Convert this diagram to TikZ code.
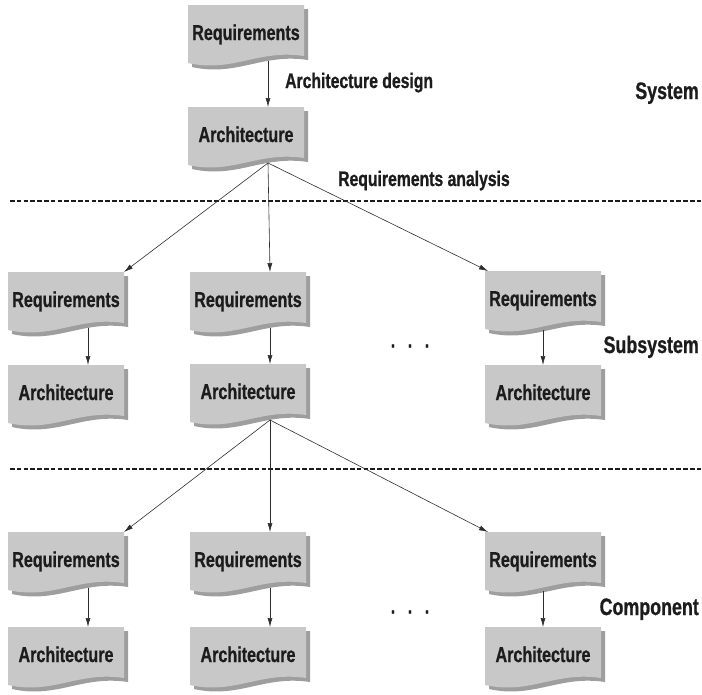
\documentclass[tikz,border=0pt]{standalone}
\usepackage{fontspec}
\newfontfamily\lblfont{Liberation Sans}[FakeStretch=0.75, BoldFeatures={FakeBold=0.8}]
\usetikzlibrary{arrows.meta}

\definecolor{docfill}{RGB}{200,200,200}
\definecolor{docshadow}{RGB}{158,158,158}
\definecolor{ink}{RGB}{28,28,28}
\definecolor{wire}{RGB}{45,45,45}

\tikzset{
  boxtext/.style={font=\lblfont\bfseries\fontsize{21.5}{25}\selectfont, text=ink, inner sep=0pt, anchor=base},
  flowlabel/.style={font=\lblfont\bfseries\fontsize{21}{25}\selectfont, text=ink, inner sep=0pt, anchor=base west},
  levellabel/.style={font=\lblfont\bfseries\fontsize{23.8}{28}\selectfont, text=ink, inner sep=0pt, anchor=base east},
  ellipsis/.style={font=\lblfont\bfseries\fontsize{21}{25}\selectfont, text=ink, inner sep=0pt},
  flow/.style={draw=wire, line width=0.6pt, -{Latex[length=9pt,width=5pt]}},
  divider/.style={draw=ink, line width=2pt, dash pattern=on 4.6pt off 2.2pt},
  % document symbol: grey sheet with a wavy lower edge and a drop shadow
  pics/docbox/.style={code={
    \fill[docshadow] (4,4) -- (120,4) -- (120,55)
      .. controls (74,48) and (49,72) .. (4,62) -- cycle;
    \fill[docfill] (0,0) -- (116,0) -- (116,51)
      .. controls (70,44) and (45,68) .. (0,58) -- cycle;
    \node[boxtext] (-t) at (58,35) {#1};
    \coordinate (-top) at (80,0);
    \coordinate (-topc) at (58,0);
    \coordinate (-ne) at (116,0);
    \coordinate (-nw) at (3,0);
    \coordinate (-bot) at (80,56);
    \coordinate (-botc) at (58,59);
  }}
}

\begin{document}
\begin{tikzpicture}[x=1pt,y=-1pt]
\useasboundingbox (0,0) rectangle (702,694);

% system level
\pic (sreq)  at (188,5)   {docbox={Requirements}};
\pic (sarch) at (188,107) {docbox={Architecture}};

% subsystem level
\pic (mlreq)  at (8,272)   {docbox={Requirements}};
\pic (mlarch) at (8,365)   {docbox={Architecture}};
\pic (mmreq)  at (190,272) {docbox={Requirements}};
\pic (mmarch) at (190,364) {docbox={Architecture}};
\pic (mrreq)  at (485,271) {docbox={Requirements}};
\pic (mrarch) at (485,365) {docbox={Architecture}};

% component level
\pic (clreq)  at (8,532)   {docbox={Requirements}};
\pic (clarch) at (8,627)   {docbox={Architecture}};
\pic (cmreq)  at (190,532) {docbox={Requirements}};
\pic (cmarch) at (190,627) {docbox={Architecture}};
\pic (crreq)  at (485,532) {docbox={Requirements}};
\pic (crarch) at (485,627) {docbox={Architecture}};

% level separators
\coordinate (d1l) at (10,201);  \coordinate (d1r) at (702,201);
\coordinate (d2l) at (10,469);  \coordinate (d2r) at (702,469);
\draw[divider] (d1l) -- (d1r);
\draw[divider] (d2l) -- (d2r);

% labels
\node[flowlabel] (design) at (285,88) {Architecture design};
\node[flowlabel] (analysis) at (338,186) {Requirements analysis};
\node[levellabel] (system) at (699,99) {System};
\node[levellabel] (subsystem) at (699,353) {Subsystem};
\node[levellabel] (component) at (699,615) {Component};
\node[ellipsis] (dots1) at (410,346) {.\hspace{12.6pt}.\hspace{12.6pt}.};
\node[ellipsis] (dots2) at (410,612) {.\hspace{12.6pt}.\hspace{12.6pt}.};

% design steps within a level
\draw[flow] (sreq-bot) -- (sarch-top);
\draw[flow] (mlreq-bot) -- (mlarch-top);
\draw[flow] (mmreq-bot) -- (mmarch-top);
\draw[flow] (mrreq-botc) -- (mrarch-topc);
\draw[flow] (clreq-bot) -- (clarch-top);
\draw[flow] (cmreq-bot) -- (cmarch-top);
\draw[flow] (crreq-botc) -- (crarch-topc);

% requirements flowing down to the next level
\draw[flow] (sarch-bot) -- (mlreq-ne);
\draw[flow] (sarch-bot) -- (mmreq-top);
\draw[flow] (sarch-bot) -- (mrreq-nw);
\draw[flow] (mmarch-bot) -- (clreq-ne);
\draw[flow] (mmarch-bot) -- (cmreq-top);
\draw[flow] (mmarch-bot) -- (crreq-nw);
\end{tikzpicture}
\end{document}
